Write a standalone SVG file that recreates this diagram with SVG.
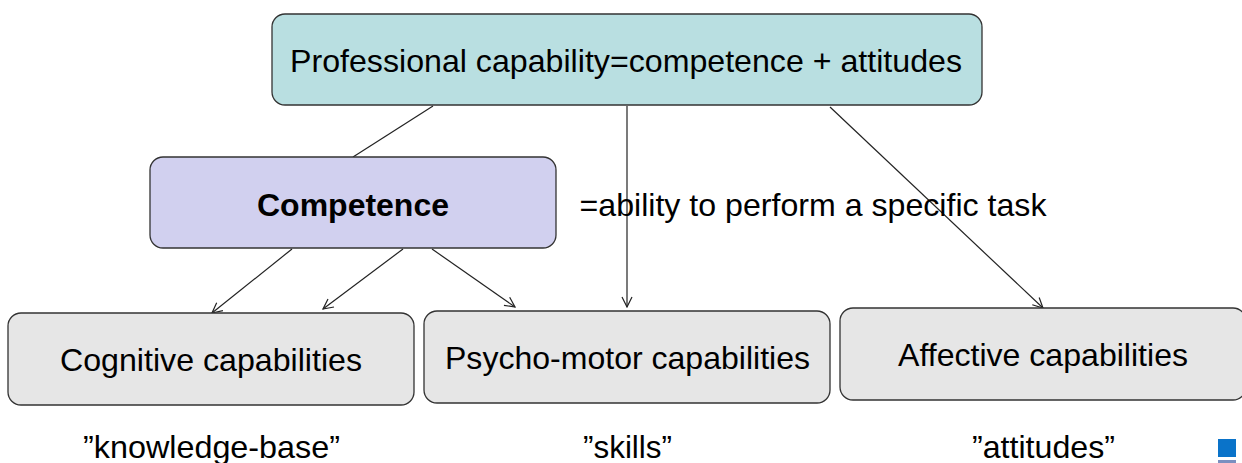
<svg xmlns="http://www.w3.org/2000/svg" width="1242" height="463" viewBox="0 0 1242 463">
<defs>
<style>
.box{stroke:#333;stroke-width:1.3}
.t{font-family:"Liberation Sans",Arial,sans-serif;font-size:32px;fill:#000;text-anchor:middle}
.c{stroke:#222;stroke-width:1.2;fill:none}
</style>
<marker id="ah" viewBox="0 0 12 12" refX="11" refY="6" markerWidth="12" markerHeight="12" markerUnits="userSpaceOnUse" orient="auto">
<path d="M1,1 L11,6 L1,11" fill="none" stroke="#222" stroke-width="1.2"/>
</marker>
</defs>
<rect width="1242" height="463" fill="#fff"/>
<g id="connectors">
<line class="c" x1="433" y1="106" x2="353" y2="157"/>
<line class="c" x1="627" y1="106" x2="627" y2="307" marker-end="url(#ah)"/>
<line class="c" x1="830" y1="107" x2="1043" y2="308" marker-end="url(#ah)"/>
<line class="c" x1="292" y1="249" x2="212" y2="313" marker-end="url(#ah)"/>
<line class="c" x1="403" y1="249" x2="323" y2="309" marker-end="url(#ah)"/>
<line class="c" x1="432" y1="249" x2="515" y2="307" marker-end="url(#ah)"/>
</g>
<g id="professional">
<rect class="box" x="272" y="14" width="710" height="91" rx="13" fill="#b9dfe1"/>
<text class="t" x="626" y="72" textLength="672" lengthAdjust="spacingAndGlyphs">Professional capability=competence + attitudes</text>
</g>
<g id="competence">
<rect class="box" x="150" y="157" width="406" height="91" rx="13" fill="#d1d0ef"/>
<text class="t" x="353" y="216" font-weight="bold" textLength="192" lengthAdjust="spacingAndGlyphs">Competence</text>
</g>
<g id="definition">
<text class="t" x="813" y="216" textLength="467" lengthAdjust="spacingAndGlyphs">=ability to perform a specific task</text>
</g>
<g id="cognitive">
<rect class="box" x="8" y="313" width="406" height="92" rx="13" fill="#e6e6e6"/>
<text class="t" x="211" y="371" textLength="302" lengthAdjust="spacingAndGlyphs">Cognitive capabilities</text>
<text class="t" x="211.5" y="458" textLength="257" lengthAdjust="spacingAndGlyphs">”knowledge-base”</text>
</g>
<g id="psychomotor">
<rect class="box" x="424" y="311" width="406" height="92" rx="13" fill="#e6e6e6"/>
<text class="t" x="627.5" y="369" textLength="365" lengthAdjust="spacingAndGlyphs">Psycho-motor capabilities</text>
<text class="t" x="627.5" y="458" textLength="89" lengthAdjust="spacingAndGlyphs">”skills”</text>
</g>
<g id="affective">
<rect class="box" x="840" y="308" width="406" height="92" rx="13" fill="#e6e6e6"/>
<text class="t" x="1043" y="366" textLength="290" lengthAdjust="spacingAndGlyphs">Affective capabilities</text>
<text class="t" x="1043.5" y="458" textLength="143" lengthAdjust="spacingAndGlyphs">”attitudes”</text>
</g>
<rect x="1218" y="439" width="18" height="18" fill="#0a73c9"/>
<rect x="1218" y="460" width="18" height="3" fill="#7a8fc0"/>
</svg>
